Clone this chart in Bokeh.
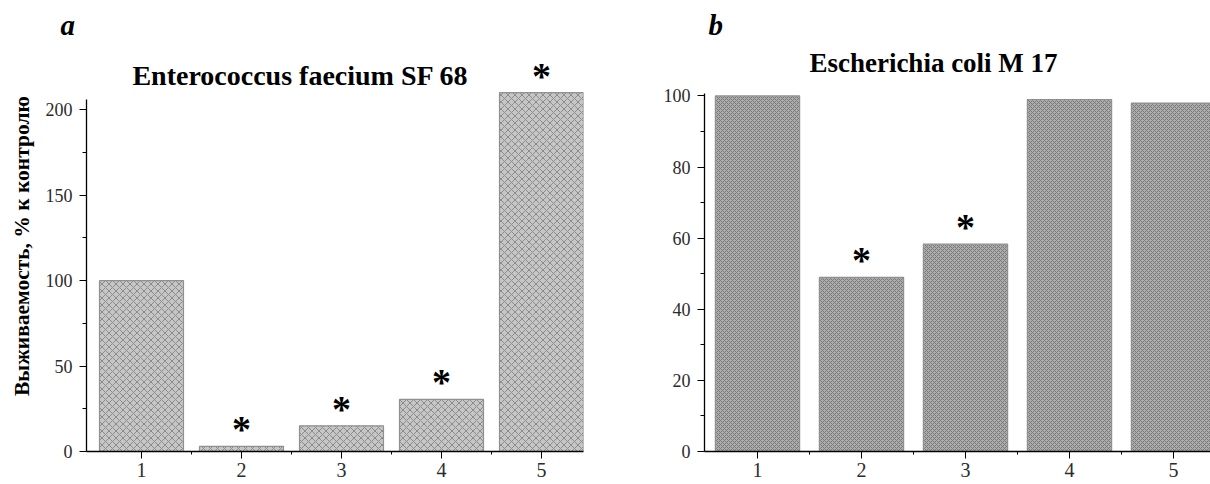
from bokeh.plotting import figure
from bokeh.layouts import row
from bokeh.models import Range1d, FixedTicker, Label, Title
from bokeh.core.properties import value
from bokeh.embed import file_html
from bokeh.resources import INLINE

# ---------------- data ----------------
groups = [1, 2, 3, 4, 5]
tick_labels = ["1", "2", "3", "4", "5"]
survival_a = [100, 3, 15, 30.5, 210]
survival_b = [100, 49, 58.3, 99, 98]
sig_a = ["", "*", "*", "*", "*"]
sig_b = ["", "*", "*", "", ""]
yticks_a = [0, 50, 100, 150, 200]
yticks_b = [0, 20, 40, 60, 80, 100]
title_a = "Enterococcus faecium SF 68"
title_b = "Escherichia coli M 17"
panel_a = "a"
panel_b = "b"
y_label = "Выживаемость, % к контролю"

SERIF = "Liberation Serif"
FIG_H = 484


def make_panel(vals, sig, yticks, ybound, title, letter, *,
               page_left, width, border_left, border_right, border_top,
               border_bottom, tick1_px, xppu, yppu, bar_w, fill, hatch_color,
               hatch_scale, title_px, letter_offset, title_size, ylab=None):
    frame_left = page_left + border_left
    frame_w = width - border_left - border_right
    frame_h = FIG_H - border_bottom - border_top
    frame_bottom = FIG_H - border_bottom
    x0 = 1 - (tick1_px - frame_left) / xppu
    x1 = x0 + frame_w / xppu
    y1 = frame_h / yppu

    def dx(px):
        return x0 + (px - frame_left) / xppu

    def dy(py):
        return (frame_bottom - py) / yppu

    p = figure(width=width, height=FIG_H, x_range=Range1d(x0, x1),
               y_range=Range1d(0, y1), output_backend="svg",
               toolbar_location=None, min_border_left=border_left,
               min_border_right=border_right, min_border_top=border_top,
               min_border_bottom=border_bottom)
    p.outline_line_color = None
    p.xgrid.visible = False
    p.ygrid.visible = False
    p.background_fill_color = "white"
    p.border_fill_color = "white"

    p.add_layout(Title(text=letter, text_font=SERIF,
                       text_font_style="bold italic", text_font_size="29px",
                       align="left", offset=letter_offset, standoff=0,
                       vertical_align="bottom", text_color="black"), "above")

    p.vbar(x=groups, top=vals, bottom=0, width=bar_w, fill_color=fill,
           line_color="#909090", line_width=1.2,
           hatch_pattern="diagonal_cross", hatch_color=hatch_color,
           hatch_scale=hatch_scale, hatch_weight=1)
    p.text(x=groups, y=vals, text=sig, text_font=value(SERIF),
           text_font_style="bold", text_font_size="38px",
           text_align="center", text_baseline="alphabetic",
           y_offset=-17, text_color="black")

    xa = p.xaxis[0]
    xa.ticker = FixedTicker(ticks=groups,
                            minor_ticks=[g + 0.5 for g in groups[:-1]])
    xa.major_label_overrides = {g: t for g, t in zip(groups, tick_labels)}
    xa.axis_line_color = "black"
    xa.axis_line_width = 1.4
    xa.major_tick_in = 0
    xa.major_tick_out = 7
    xa.minor_tick_in = 0
    xa.minor_tick_out = 3
    xa.major_tick_line_color = "black"
    xa.minor_tick_line_color = "black"
    xa.major_label_text_font = SERIF
    xa.major_label_text_font_size = "20px"
    xa.major_label_text_color = "#2b2b2b"
    xa.major_label_standoff = 4

    ya = p.yaxis[0]
    ya.ticker = FixedTicker(ticks=yticks,
                            minor_ticks=[(a + b) / 2 for a, b in zip(yticks, yticks[1:])])
    ya.bounds = (0, ybound)
    ya.axis_line_color = "black"
    ya.axis_line_width = 1.3
    ya.major_tick_in = 0
    ya.major_tick_out = 7
    ya.minor_tick_in = 0
    ya.minor_tick_out = 4
    ya.major_label_text_font = SERIF
    ya.major_label_text_font_size = "18px"
    ya.major_label_text_color = "#2b2b2b"
    ya.major_label_standoff = 7
    if ylab:
        ya.axis_label = ylab
        ya.axis_label_text_font = SERIF
        ya.axis_label_text_font_style = "bold"
        ya.axis_label_text_font_size = "21.5px"
        ya.axis_label_text_color = "black"
        ya.axis_label_standoff = 9

    p.add_layout(Label(x=dx(title_px[0]), y=dy(title_px[1]), text=title,
                       text_font=SERIF, text_font_style="bold",
                       text_font_size=title_size, text_align="center",
                       text_baseline="alphabetic", text_color="black"))
    return p


pa = make_panel(survival_a, sig_a, yticks_a, 206, title_a, panel_a,
                page_left=0, width=644, border_left=86, border_right=61,
                border_top=40, border_bottom=33,
                tick1_px=141, xppu=100, yppu=1.7085, bar_w=0.84,
                fill="#c6c6c6", hatch_color="#8c8c8c", hatch_scale=7,
                title_px=(300, 75), letter_offset=-26, title_size="28px",
                ylab=y_label)
pb = make_panel(survival_b, sig_b, yticks_b, 100.6, title_b, panel_b,
                page_left=644, width=566, border_left=60, border_right=0,
                border_top=40, border_bottom=29,
                tick1_px=757, xppu=104, yppu=3.59, bar_w=0.81,
                fill="#acacac", hatch_color="#7a7a7a", hatch_scale=4,
                title_px=(933, 63), letter_offset=4, title_size="27px")

layout = row(pa, pb)
open("out.html", "w").write(file_html(layout, INLINE))
